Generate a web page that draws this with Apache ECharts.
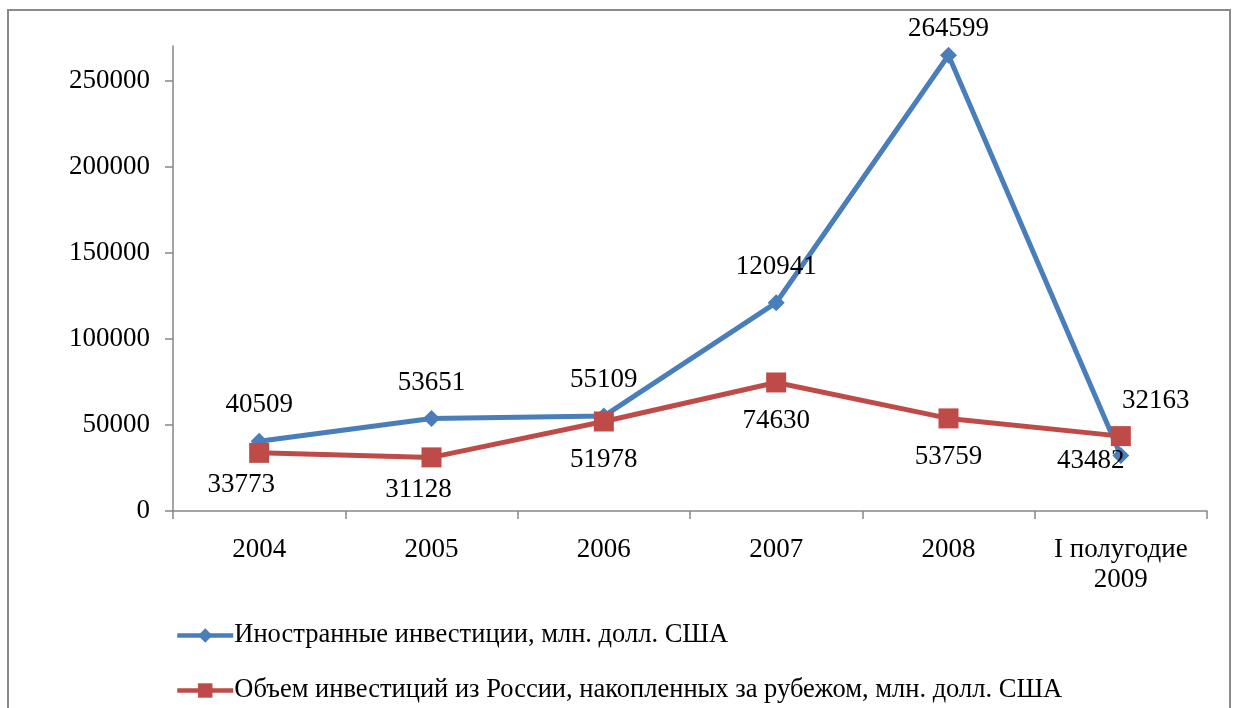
<!DOCTYPE html>
<html>
<head>
<meta charset="utf-8">
<script src="https://cdn.jsdelivr.net/npm/echarts@6/dist/echarts.min.js"></script>
<style>
  html, body { margin: 0; padding: 0; background: #fff; }
  #chart { width: 1235px; height: 708px; }
</style>
</head>
<body>
<div id="chart"></div>
<script>
// data
var categories = ['2004', '2005', '2006', '2007', '2008', 'I полугодие\n2009']
var foreignName = 'Иностранные инвестиции, млн. долл. США'
var foreignValues = [40509, 53651, 55109, 120941, 264599, 32163]
var abroadName = 'Объем инвестиций из России, накопленных за рубежом, млн. долл. США'
var abroadValues = [33773, 31128, 51978, 74630, 53759, 43482]
var yTicks = [0, 50000, 100000, 150000, 200000, 250000]

var font = 'Liberation Serif, Times New Roman, serif'
var blue = '#4A7EBB'
var red = '#BE4B48'

// label nudges, like the ones dragged by hand in the original
var blueShift = { 4: [0, 10], 5: [35, -19] }
var redShift = { 0: [-18, -6], 1: [-13, -6], 5: [-30, -14] }

function withLabels (values, shifts) {
  return values.map(function (v, i) {
    var item = { value: v }
    if (shifts[i]) item.label = { offset: shifts[i] }
    return item
  })
}

function legendRow (name, top) {
  return {
    orient: 'horizontal',
    left: 175,
    top: top,
    padding: 0,
    itemWidth: 56,
    itemHeight: 18,
    textStyle: { fontFamily: font, fontSize: 26.5, color: '#000', padding: [0, 0, 0, -4] },
    lineStyle: { width: 4.5 },
    data: [name]
  }
}

var chart = echarts.init(document.getElementById('chart'))
chart.setOption({
  animation: false,
  textStyle: { fontFamily: font },
  graphic: [{
    type: 'rect',
    shape: { x: 8, y: 10, width: 1222, height: 720 },
    style: { fill: 'none', stroke: '#8a8a8a', lineWidth: 2 }
  }],
  grid: { left: 173, top: 46, right: 28, bottom: 197 },
  legend: [legendRow(foreignName, 622), legendRow(abroadName, 677)],
  xAxis: {
    type: 'category',
    data: categories,
    boundaryGap: true,
    axisLine: { lineStyle: { color: '#868686', width: 1.5 } },
    axisTick: { show: true, length: 8, lineStyle: { color: '#868686', width: 1.5 } },
    axisLabel: { interval: 0, fontFamily: font, fontSize: 27, color: '#000', margin: 24, lineHeight: 30 }
  },
  yAxis: {
    type: 'value',
    min: 0,
    max: 270000,
    interval: 50000,
    splitLine: { show: false },
    axisLine: { show: true, lineStyle: { color: '#868686', width: 1.5 } },
    axisTick: { show: true, length: 8, customValues: yTicks, lineStyle: { color: '#868686', width: 1.5 } },
    axisLabel: {
      fontFamily: font, fontSize: 27, color: '#000', margin: 23, customValues: yTicks,
      formatter: function (v) { return String(v) }
    }
  },
  series: [
    {
      name: foreignName,
      type: 'line',
      data: withLabels(foreignValues, blueShift),
      symbol: 'diamond',
      symbolSize: 17,
      z: 2,
      lineStyle: { color: blue, width: 5 },
      itemStyle: { color: blue },
      label: { show: true, position: 'top', distance: 14, fontFamily: font, fontSize: 27, color: '#000' }
    },
    {
      name: abroadName,
      type: 'line',
      data: withLabels(abroadValues, redShift),
      symbol: 'rect',
      symbolSize: 20,
      z: 3,
      lineStyle: { color: red, width: 5 },
      itemStyle: { color: red },
      label: { show: true, position: 'bottom', distance: 15, fontFamily: font, fontSize: 27, color: '#000' }
    }
  ]
})
</script>
</body>
</html>
